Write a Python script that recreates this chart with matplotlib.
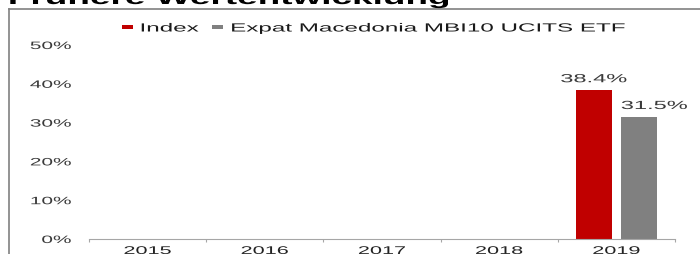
import matplotlib
matplotlib.use('Agg')
import matplotlib.pyplot as plt
import numpy as np
from matplotlib.patches import Patch
from matplotlib.lines import Line2D
from matplotlib.patheffects import AbstractPathEffect
from matplotlib.transforms import Affine2D

plt.rcParams['font.family'] = ['Liberation Sans', 'DejaVu Sans']

title = 'Frühere Wertentwicklung'
years = ['2015', '2016', '2017', '2018', '2019']
series_names = ['Index', 'Expat Macedonia MBI10 UCITS ETF']
index_vals = [np.nan, np.nan, np.nan, np.nan, 38.4]
etf_vals = [np.nan, np.nan, np.nan, np.nan, 31.5]
yticks = [0, 10, 20, 30, 40, 50]

RED = '#C00000'
GREY = '#808080'


class Stretch(AbstractPathEffect):
    # the source picture is squeezed wide, so widen the glyphs the same way
    def __init__(self, sx, anchor=0.5):
        super().__init__()
        self.sx = sx
        self.anchor = anchor

    def draw_path(self, renderer, gc, tpath, affine, rgbFace=None):
        ext = tpath.get_extents()
        x0 = ext.x0 + self.anchor * ext.width
        t = Affine2D().translate(-x0, 0).scale(self.sx, 1).translate(x0, 0)
        renderer.draw_path(gc, tpath, t + affine, rgbFace)


fig = plt.figure(figsize=(7, 2.55), dpi=100)
ax = fig.add_axes([89 / 700, 15 / 255, 586 / 700, 194 / 255])

x = np.arange(len(years))
w = 0.305
off = 0.194
ax.bar(x - off, index_vals, w, color=RED)
ax.bar(x + off, etf_vals, w, color=GREY)

for xi, v in zip(x, index_vals):
    if not np.isnan(v):
        ax.annotate(f'{v:.1f}%', (xi - off, v), xytext=(0, 5.6), textcoords='offset points',
                    ha='center', va='baseline', fontsize=8.5, color='#3a3a3a',
                    path_effects=[Stretch(2.0, 0.5)])
for xi, v in zip(x, etf_vals):
    if not np.isnan(v):
        ax.annotate(f'{v:.1f}%', (xi + off - w / 2, v), xytext=(0, 5.6), textcoords='offset points',
                    ha='left', va='baseline', fontsize=8.5, color='#3a3a3a',
                    path_effects=[Stretch(2.0, 0.0)])

ax.set_xlim(-0.5, len(years) - 0.5)
ax.set_ylim(0, 50)

for s in ['top', 'right', 'left']:
    ax.spines[s].set_visible(False)
ax.spines['bottom'].set_color('#a6a6a6')
ax.spines['bottom'].set_linewidth(0.8)

ax.set_xticks(x, years)
ax.set_xticks(np.arange(-0.5, len(years), 1), minor=True)
ax.tick_params(axis='x', which='major', length=0, pad=5, labelsize=8, labelcolor='#222222')
ax.tick_params(axis='x', which='minor', length=2.5, width=0.8, color='#a6a6a6')
ax.set_yticks(yticks, [f'{v}%' for v in yticks])
ax.tick_params(axis='y', length=0, pad=13, labelsize=7.7, labelcolor='#3a3a3a')

for tl in ax.get_xticklabels():
    tl.set_path_effects([Stretch(1.95, 0.5)])
for tl in ax.get_yticklabels():
    tl.set_path_effects([Stretch(1.95, 1.0)])

handles = [Patch(facecolor=RED, edgecolor='none'), Patch(facecolor=GREY, edgecolor='none')]
leg = ax.legend(handles, series_names, ncol=2, loc='lower left',
                bbox_to_anchor=(122 / 700, 1 - 35.5 / 255), bbox_transform=fig.transFigure,
                frameon=False, fontsize=8.5, handlelength=0.9, handleheight=0.145,
                handletextpad=0.68, columnspacing=3.65, borderpad=0, borderaxespad=0)
for t in leg.get_texts():
    t.set_color('#1a1a1a')
    t.set_path_effects([Stretch(2.05, 0.0)])

# cropped heading and the box lines round the chart
fig.text(9 / 700, 1 - 5 / 255, title, fontsize=14, fontweight='bold', ha='left',
         va='baseline', color='black', path_effects=[Stretch(1.9, 0.0)])
fig.add_artist(Line2D([9 / 700, 1], [1 - 9.5 / 255] * 2, transform=fig.transFigure,
                      color='#808080', lw=1.2))
fig.add_artist(Line2D([9 / 700] * 2, [0, 1 - 9.5 / 255], transform=fig.transFigure,
                      color='#808080', lw=1.2))

fig.savefig('out.png', dpi=100)
